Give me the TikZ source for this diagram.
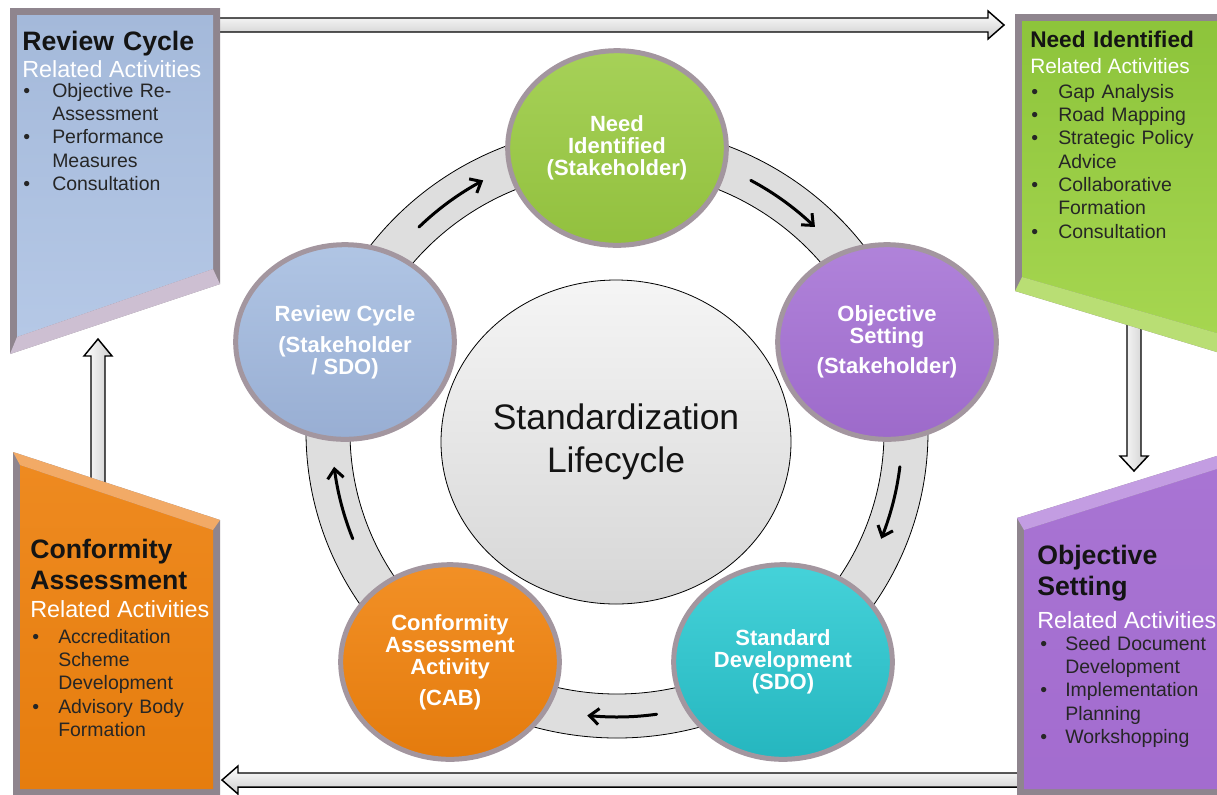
\documentclass[tikz,border=0pt]{standalone}
\usepackage{fontspec}
\setmainfont{Liberation Sans}
\usetikzlibrary{shapes.geometric,arrows.meta}
\definecolor{framec}{HTML}{8F858E}
\definecolor{circb}{HTML}{A3969F}
\definecolor{titlec}{HTML}{141414}
\definecolor{listc}{HTML}{262626}
\definecolor{ringc}{HTML}{DEDEDE}
\definecolor{bluep}{HTML}{A4B9DA}
\definecolor{bluepl}{HTML}{B5C8E6}
\definecolor{bluef}{HTML}{CDBFD2}
\definecolor{greenp}{HTML}{8DC43B}
\definecolor{greenpl}{HTML}{A6D650}
\definecolor{greenf}{HTML}{B9DE74}
\definecolor{orangep}{HTML}{EE8A20}
\definecolor{orangepl}{HTML}{E67D0E}
\definecolor{orangef}{HTML}{F2AA66}
\definecolor{purplep}{HTML}{A874D3}
\definecolor{purplepl}{HTML}{A36CCF}
\definecolor{purplef}{HTML}{C39DE2}
\definecolor{cgreenA}{HTML}{A6D158}
\definecolor{cgreenB}{HTML}{92C03E}
\definecolor{cpurpleA}{HTML}{B083DA}
\definecolor{cpurpleB}{HTML}{9D6ACA}
\definecolor{ctealA}{HTML}{45D2D9}
\definecolor{ctealB}{HTML}{25B6BF}
\definecolor{corangeA}{HTML}{F29026}
\definecolor{corangeB}{HTML}{E47B0D}
\definecolor{cblueA}{HTML}{B0C5E4}
\definecolor{cblueB}{HTML}{98AED3}
\newlength\bw
\newcommand\bi[1]{\makebox[\bw][l]{•}#1}
\newcommand\ci[1]{\hspace*{\bw}#1}
\begin{document}
\begin{tikzpicture}[x=0.75pt,y=-0.75pt,
  blockh/.style={draw=black, line width=1.1pt, top color=white, bottom color=gray!40},
  blockv/.style={draw=black, line width=1.1pt, left color=white, right color=gray!40},
  pcircle/.style={ellipse, draw=circb, line width=3.75pt, minimum width=164pt, minimum height=146pt,
    inner sep=0pt, text=white, align=center, font=\bfseries\fontsize{16.5}{16.5}\selectfont},
  ptitle/.style={anchor=base west, inner sep=0pt, text width=200pt, align=left, text=titlec,
    font=\bfseries\fontsize{20}{23.5}\selectfont},
  prel/.style={anchor=base west, inner sep=0pt, text=white, font=\fontsize{17.5}{20}\selectfont},
  plist/.style={anchor=base west, inner sep=0pt, text width=180pt, align=left, text=listc,
    font=\fontsize{14.6}{17.5}\selectfont},
  ringarrow/.style={line width=2.25pt, line cap=round, arrows={Straight Barb[length=7pt,width=12pt]-}}
]
\useasboundingbox (0,0) rectangle (1217,794);
\fill[white] (0,0) rectangle (1217,794);

% block arrows between panels
\draw[blockh] (215,18) -- (988,18) -- (988,11) -- (1004,25) -- (988,39) -- (988,32) -- (215,32) -- cycle;
\draw[blockv] (1127,320) -- (1127,456) -- (1120,456) -- (1134,471) -- (1148,456) -- (1141,456) -- (1141,320) -- cycle;
\draw[blockh] (1022,773) -- (238,773) -- (238,766) -- (222,780) -- (238,794) -- (238,787) -- (1022,787) -- cycle;
\draw[blockv] (91,490) -- (91,356) -- (84,356) -- (98,339) -- (112,356) -- (105,356) -- (105,490) -- cycle;

% panel 1 : Review Cycle
\fill[framec] (10,8) -- (220,8) -- (220,284) -- (10,354) -- cycle;
\shade[top color=bluep, bottom color=bluepl] (17,15) -- (213,15) -- (213,269) -- (17,337) -- cycle;
\fill[bluef] (213,269) -- (220,284) -- (10,354) -- (17,337) -- cycle;
% panel 2 : Need Identified
\fill[framec] (1015,14) -- (1220,14) -- (1220,353) -- (1015,291) -- cycle;
\shade[top color=greenp, bottom color=greenpl] (1022,21) -- (1220,21) -- (1220,334) -- (1022,277) -- cycle;
\fill[greenf] (1022,277) -- (1220,334) -- (1220,353) -- (1015,291) -- cycle;
% panel 3 : Conformity Assessment
\fill[framec] (13,452) -- (220,520) -- (220,800) -- (13,800) -- cycle;
\shade[top color=orangep, bottom color=orangepl] (20,465) -- (213,530) -- (213,789) -- (20,789) -- cycle;
\fill[orangef] (13,452) -- (220,520) -- (213,530) -- (20,465) -- cycle;
% panel 4 : Objective Setting
\fill[framec] (1017,518) -- (1220,455) -- (1220,800) -- (1017,800) -- cycle;
\shade[top color=purplep, bottom color=purplepl] (1024,530) -- (1220,468) -- (1220,789) -- (1024,789) -- cycle;
\fill[purplef] (1017,518) -- (1220,455) -- (1220,468) -- (1024,530) -- cycle;

% panel texts
\node[ptitle] (t1) at (22,50) {Review Cycle};
\node[prel] (r1) at (22,77) {Related Activities};
\node[plist] (l1) at (23,97) {\setlength\bw{21.75pt}\bi{Objective Re-}\\\ci{Assessment}\\\bi{Performance}\\\ci{Measures}\\\bi{Consultation}};

\node[ptitle, font=\bfseries\fontsize{17}{20}\selectfont] (t2) at (1030,47) {Need Identified};
\node[prel, font=\fontsize{15.6}{18}\selectfont] (r2) at (1030,73) {Related Activities};
\node[plist] (l2) at (1031,98) {\setlength\bw{20.25pt}\bi{Gap Analysis}\\\bi{Road Mapping}\\\bi{Strategic Policy}\\\ci{Advice}\\\bi{Collaborative}\\\ci{Formation}\\\bi{Consultation}};

\node[ptitle] (t3) at (30,558) {Conformity\\Assessment};
\node[prel] (r3) at (30,617) {Related Activities};
\node[plist] (l3) at (32,643) {\setlength\bw{19.5pt}\bi{Accreditation}\\\ci{Scheme}\\\ci{Development}\\\bi{Advisory Body}\\\ci{Formation}};

\node[ptitle] (t4) at (1037,564) {Objective\\Setting};
\node[prel] (r4) at (1037,628) {Related Activities};
\node[plist] (l4) at (1040,650) {\setlength\bw{18.75pt}\bi{Seed Document}\\\ci{Development}\\\bi{Implementation}\\\ci{Planning}\\\bi{Workshopping}};

% ring
\coordinate (rc) at (617,432);
\fill[ringc, even odd rule] (rc) ellipse [x radius=233.25pt, y radius=229.5pt] (rc) ellipse [x radius=200.25pt, y radius=196.5pt];
\draw[black, line width=0.6pt] (rc) ellipse [x radius=233.25pt, y radius=229.5pt];
\draw[black, line width=0.6pt] (rc) ellipse [x radius=200.25pt, y radius=196.5pt];

% centre
\node[ellipse, draw=black, line width=0.6pt, top color=gray!8, bottom color=gray!32,
  minimum width=262.5pt, minimum height=243pt, inner sep=0pt, align=center, text=titlec,
  font=\fontsize{26.6}{32}\selectfont] (core) at (616,442) {Standardization\\Lifecycle};

% arrows along the ring
\draw[ringarrow] plot[domain=118:134, samples=25] ({617+285*cos(\x)},{432-285*sin(\x)});
\draw[ringarrow] plot[domain=46:62, samples=25] ({617+285*cos(\x)},{432-285*sin(\x)});
\draw[ringarrow] plot[domain=-22:-7, samples=25] ({617+285*cos(\x)},{432-285*sin(\x)});
\draw[ringarrow] plot[domain=-96:-82, samples=25] ({617+285*cos(\x)},{432-285*sin(\x)});
\draw[ringarrow] plot[domain=187:202, samples=25] ({617+285*cos(\x)},{432-285*sin(\x)});

% stage circles
\node[pcircle, top color=cgreenA, bottom color=cgreenB] (need) at (617,148) {Need\\Identified\\(Stakeholder)};
\node[pcircle, top color=cpurpleA, bottom color=cpurpleB] (obj) at (887,342) {Objective\\Setting\\[6pt](Stakeholder)};
\node[pcircle, top color=ctealA, bottom color=ctealB] (std) at (783,662) {Standard\\Development\\(SDO)};
\node[pcircle, top color=corangeA, bottom color=corangeB] (conf) at (450,662) {Conformity\\Assessment\\Activity\\[6.5pt](CAB)};
\node[pcircle, top color=cblueA, bottom color=cblueB] (rev) at (345,342) {Review Cycle\\[6.5pt](Stakeholder\\/ SDO)};
\end{tikzpicture}
\end{document}
